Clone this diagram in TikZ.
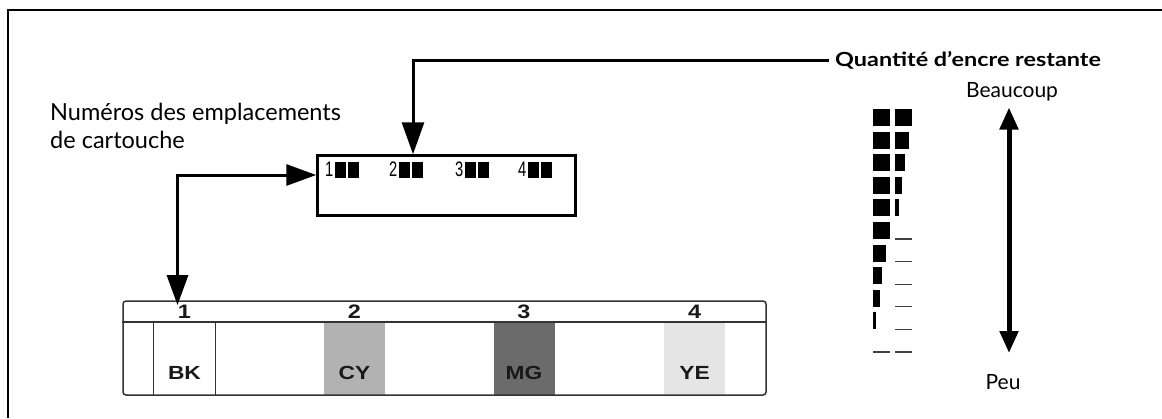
\documentclass[tikz,border=0pt]{standalone}
\usepackage{fontspec}
\setmainfont{Lato}
\newfontfamily\narrowfont[FakeStretch=0.7]{Liberation Sans}
\newfontfamily\slotfont[FakeStretch=1.2]{Liberation Sans}
\newfontfamily\widebold[FakeStretch=1.2]{Lato}
\usetikzlibrary{arrows.meta,positioning}

\definecolor{cyshade}{gray}{0.70}
\definecolor{mgshade}{gray}{0.42}
\definecolor{yeshade}{gray}{0.90}
\definecolor{inkline}{gray}{0.2}

\begin{document}
\begin{tikzpicture}[
  x=1pt, y=-1pt,
  lbl/.style={font=\fontsize{21}{28}\selectfont, align=left, inner sep=0pt},
  gauge/.style={font=\narrowfont\fontsize{21}{21}\selectfont, inner sep=0pt, anchor=west},
  slot/.style={minimum width=61pt, minimum height=73pt, inner sep=0pt, draw=none},
  slotnum/.style={font=\slotfont\bfseries\fontsize{19}{19}\selectfont, inner sep=0pt, text=black!90},
  arr/.style={{Triangle[length=30pt, width=21pt]}-{Triangle[length=30pt, width=21pt]}, line width=3pt},
  onearr/.style={-{Triangle[length=32pt, width=22pt]}, line width=3pt},
  dbl/.style={{Triangle[length=22pt, width=18pt]}-{Triangle[length=22pt, width=18pt]}, line width=5pt},
  levelmark/.style={black!75, line width=1.2pt}
]
  \useasboundingbox (0,0) rectangle (1162,418);
  \draw[line width=2.5pt] (1162,10) -| (8,418);

  \node[lbl, font=\fontsize{23.5}{28}\selectfont, anchor=north west] (slotlabel) at (50,103) {Numéros des emplacements\\de cartouche};

  % display panel
  \node[draw, line width=2.5pt, minimum width=258pt, minimum height=60pt, inner sep=0pt] (panel) at (446.5,185.5) {};
  \foreach \n/\x in {1/325, 2/389, 3/455, 4/518}
    \node[gauge] (g\n) at (\x,170) {\n\hspace{1.5pt}\rule[-2pt]{11pt}{16pt}\hspace{2pt}\rule[-2pt]{11pt}{16pt}};

  % cartridge strip
  \foreach \n/\lab/\col/\x in {1/BK/white/184.5, 2/CY/cyshade/354.5, 3/MG/mgshade/524, 4/YE/yeshade/694.5} {
    \node[slot, fill=\col] (slot\n) at (\x,358.5) {};
    \node[slotnum, font=\slotfont\bfseries\fontsize{19.5}{19}\selectfont] (num\n) at (\x,312) {\n};
    \node[slotnum] (ink\n) at (\x,373) {\lab};
  }
  \node[draw=inkline, line width=1.5pt, rounded corners=3pt, minimum width=643pt, minimum height=94pt, inner sep=0pt] (strip) at (444.5,348) {};
  \draw[inkline, line width=1.5pt] (strip.west |- slot1.north) -- (strip.east |- slot1.north);
  \draw[inkline, line width=1.2pt] (slot1.north west) -- (slot1.south west)
    (slot1.north east) -- (slot1.south east);

  % ink level legend
  \node[font=\widebold\bfseries\fontsize{19.5}{19}\selectfont, inner sep=0pt, anchor=west] (qty) at (835,60) {Quantité d’encre restante};
  \node[lbl] (much) at (1012,92) {Beaucoup};
  \node[lbl] (little) at (1003,382) {Peu};
  \foreach \i/\w in {0/17, 1/17, 2/17, 3/17, 4/17, 5/17, 6/13, 7/9, 8/7, 9/3}
    \fill (873,109+22.6*\i) rectangle ++(\w,17);
  \foreach \i/\w in {0/17, 1/14, 2/10, 3/7, 4/4}
    \fill (895,109+22.6*\i) rectangle ++(\w,17);
  \foreach \i in {5,...,10}
    \draw[levelmark] (895,126+22.6*\i) -- ++(17,0);
  \draw[levelmark] (873,352) -- ++(17,0);

  \draw[dbl] ([xshift=-3pt, yshift=-6pt]much.south) -- ([xshift=-3pt]much.south |- 0,353);

  \draw[arr] ([xshift=-7pt]num1.north) |- (panel.west |- 0,175);
  \draw[onearr] ([xshift=-6pt]qty.west) -| (panel.north -| 413,0);
\end{tikzpicture}
\end{document}
